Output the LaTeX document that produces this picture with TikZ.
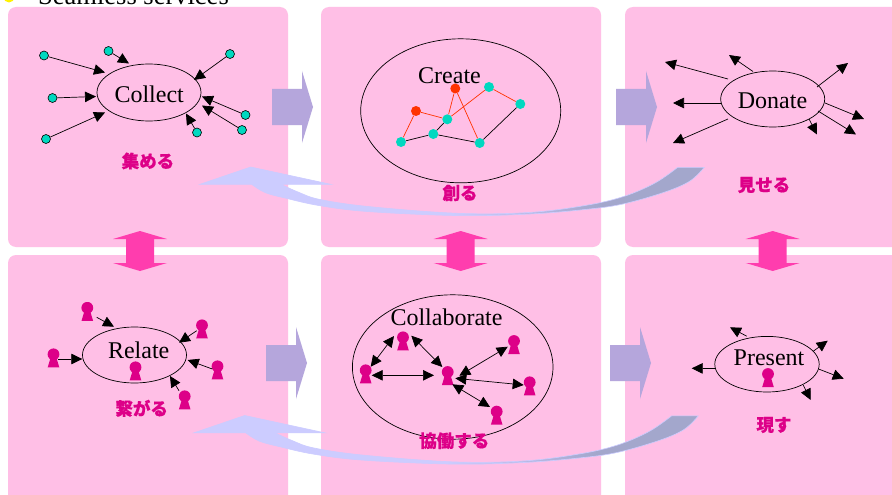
\documentclass[tikz,border=0pt]{standalone}
\usepackage{fontspec}
\setmainfont{Liberation Serif}
\newfontfamily\cjk[BoldFeatures={FakeBold=0.5}]{Noto Sans CJK JP}
\usetikzlibrary{shapes.geometric,arrows.meta,calc}
\definecolor{panelpink}{HTML}{FFBFE6}
\definecolor{flowviolet}{HTML}{B5A6DC}
\definecolor{hotpink}{HTML}{FF3DAE}
\definecolor{magentaink}{HTML}{DD0088}
\definecolor{teal}{HTML}{00D8C0}
\definecolor{redorange}{HTML}{FF3300}
\definecolor{curvelight}{HTML}{CCCCFF}
\definecolor{curvedark}{HTML}{A3A7CC}
\pgfdeclarehorizontalshading{curveshade}{100bp}{color(0bp)=(curvelight); color(50bp)=(curvelight); color(65bp)=(curvedark); color(100bp)=(curvedark)}
\tikzset{
  x=1pt,y=-1pt,
  panel/.style={fill=panelpink,rounded corners=8pt},
  flow/.style={fill=flowviolet},
  updown/.style={fill=hotpink},
  ring/.style={ellipse,draw=black,line width=.7pt,inner sep=0pt,fill=none},
  title/.style={font=\fontsize{24}{26}\selectfont,anchor=base,inner sep=0pt},
  jp/.style={font=\cjk\bfseries\fontsize{17.5}{20}\selectfont,text=magentaink,inner sep=0pt},
  leaf/.style={circle,draw=black,line width=.6pt,fill=teal,minimum size=9pt,inner sep=0pt},
  dot/.style={circle,fill=teal,minimum size=10pt,inner sep=0pt},
  reddot/.style={circle,fill=redorange,minimum size=10pt,inner sep=0pt},
  person/.style={rectangle,inner sep=0pt,minimum width=12.4pt,minimum height=18.8pt,
    path picture={\fill[magentaink] (0pt,3.7pt) circle (5.9pt);
      \fill[magentaink] (-1.8pt,4pt)--(1.8pt,4pt)--(5.8pt,-9.4pt)--(-5.8pt,-9.4pt)--cycle;}},
  link/.style={draw=black,line width=.7pt,-{Triangle[length=11pt,width=10.5pt]}},
  both/.style={draw=black,line width=.7pt,{Triangle[length=11pt,width=10.5pt]}-{Triangle[length=11pt,width=10.5pt]}},
  edgeblack/.style={draw=black,line width=.7pt},
  edgered/.style={draw=redorange,line width=.7pt},
}
\begin{document}
\begin{tikzpicture}
\useasboundingbox (0,0) rectangle (892,495);
\clip (0,0) rectangle (892,495);
\fill[white] (0,0) rectangle (892,495);
% panels
\foreach \xa/\xb/\ya/\yb in {8/288/7/247,321/601/7/247,625/980/7/247,8/288/255/580,321/601/255/580,625/980/255/580}
  \fill[panel] (\xa,\ya) rectangle (\xb,\yb);
% heading
\node[circle,fill=yellow,minimum size=11pt,inner sep=0pt] (bullet) at (9,-3) {};
\node[font=\fontsize{26.5}{28}\selectfont,anchor=base west,inner sep=0pt] (heading) at (38,5) {Seamless services};
% flow arrows
\foreach \px/\py in {272/107,616/107,266/363,610/363}
  \fill[flow,shift={(\px,\py)}] (0,-18)--(30,-18)--(30,-36)--(41,0)--(30,36)--(30,18)--(0,18)--cycle;
% vertical double arrows
\foreach \px in {140,460.7,772.7}
  \fill[updown,shift={(\px,251)}] (0,-20)--(27,-12)--(14,-12)--(14,12)--(27,12)--(0,20)--(-27,12)--(-14,12)--(-14,-12)--(-27,-12)--cycle;
% curved return arrows
\foreach \px/\py in {0/0,-6/248.5}
  \shadedraw[shading=curveshade,draw=curvelight,line width=.6pt,shift={(\px,\py)}]
    (200,184.3)--(250.7,167)--(330.7,184.3)--
    plot[smooth,tension=.6] coordinates {(281,184.3)(298,192)(320,199.5)(370,206.7)(460,213.4)(530,212.4)(585,205.5)(623,196.7)(655,183)(677.7,167.3)}
    --
    plot[smooth,tension=.6] coordinates {(704.3,167.3)(690,181)(665,192)(623,204)(585,209.5)(530,214)(460,215.6)(370,211.7)(320,205.7)(285,198)(265,192.5)(251.7,184.3)}
    --cycle;
% COLLECT
\node[ring,minimum width=104pt,minimum height=57pt] (collect) at (149,92.5) {};
\node[title] (collectText) at (149.2,102.7) {Collect};
\node[jp] (collectJp) at (148,161) {集める};
\node[leaf] (l1) at (44,55.5) {};
\node[leaf] (l2) at (108.5,51) {};
\node[leaf] (l3) at (230,54) {};
\node[leaf] (l4) at (245.5,115) {};
\node[leaf] (l5) at (242,130) {};
\node[leaf] (l6) at (197,132.5) {};
\node[leaf] (l7) at (46,139) {};
\node[leaf] (l8) at (52.5,98) {};
\draw[link] (l1)--($(collect)+(-44,-20)$);
\draw[link] (l2)--($(collect)+(-20,-29)$);
\draw[link] (l3)--($(collect)+(45,-12.5)$);
\draw[link] (l4)--($(collect)+(53,4)$);
\draw[link] (l5)--($(collect)+(53,13)$);
\draw[link] (l6)--($(collect)+(37,21)$);
\draw[link] (l7)--($(collect)+(-44,20)$);
\draw[link] (l8)--($(collect)+(-53,4)$);
% CREATE
\node[ring,minimum width=200pt,minimum height=144pt] (create) at (460.7,110.8) {};
\node[title] (createText) at (449.5,83.3) {Create};
\node[jp] (createJp) at (460,193) {創る};
\node[reddot] (r1) at (416,111) {};
\node[reddot] (r2) at (455.3,88.5) {};
\node[dot] (a) at (401,142) {};
\node[dot] (b) at (433.3,134) {};
\node[dot] (c) at (447.3,119.3) {};
\node[dot] (d) at (479.7,143) {};
\node[dot] (e) at (489,87) {};
\node[dot] (f) at (520.3,104) {};
\draw[edgeblack] (a)--(b) (b)--(c) (b)--(d) (d)--(f);
\draw[edgered] (a)--(r1) (r1)--(c) (c)--(r2) (r2)--(d) (c)--(e) (e)--(f);
% DONATE
\node[ring,minimum width=104pt,minimum height=56pt] (donate) at (772.7,99) {};
\node[title] (donateText) at (772.5,108.3) {Donate};
\node[jp] (donateJp) at (764,185) {見せる};
\coordinate (d1) at (665,62);
\coordinate (d2) at (729,55);
\coordinate (d3) at (848,63);
\coordinate (d4) at (864,119);
\coordinate (d5) at (856,134.5);
\coordinate (d6) at (817,134.5);
\coordinate (d7) at (673,103);
\coordinate (d8) at (673,143);
\draw[link] ($(donate)+(-44.7,-20)$)--(d1);
\draw[link] ($(donate)+(-19.7,-27.5)$)--(d2);
\draw[link] ($(donate)+(44.3,-12)$)--(d3);
\draw[link] ($(donate)+(52.3,4)$)--(d4);
\draw[link] ($(donate)+(45.3,12)$)--(d5);
\draw[link] ($(donate)+(36.3,20)$)--(d6);
\draw[link] ($(donate)+(-52,4)$)--(d7);
\draw[link] ($(donate)+(-44.7,20)$)--(d8);
% RELATE
\node[ring,minimum width=104pt,minimum height=56pt] (relate) at (134.5,355) {};
\node[title] (relateText) at (138.7,358.3) {Relate};
\node[jp] (relateJp) at (141.7,408.3) {繋がる};
\node[person] (p1) at (87.3,311.5) {};
\node[person] (p2) at (202,329) {};
\node[person] (p3) at (217.5,370) {};
\node[person] (p4) at (184.7,400) {};
\node[person] (p5) at (53.5,358) {};
\node[person] (p6) at (135.5,371) {};
\draw[link] ($(p1)+(9.4,5.8)$)--($(relate)+(-20.5,-28.3)$);
\draw[link] ($(p2)+(-5.3,1.7)$)--($(relate)+(44.5,-12.3)$);
\draw[link] ($(p3)+(-5.2,-1)$)--($(relate)+(53.2,5)$);
\draw[link] ($(p4)+(-5.7,-9.3)$)--($(relate)+(35.5,21)$);
\draw[link] ($(p5)+(4.8,1)$)--($(relate)+(-52.2,4)$);
% COLLABORATE
\node[ring,minimum width=200.6pt,minimum height=144.4pt] (collab) at (452.7,367) {};
\node[title] (collabText) at (446.5,325) {Collaborate};
\node[jp] (collabJp) at (454.3,440.7) {協働する};
\node[person] (q1) at (403,341) {};
\node[person] (q2) at (365.7,374) {};
\node[person] (q3) at (447.7,375.7) {};
\node[person] (q4) at (514,344.7) {};
\node[person] (q5) at (529.7,386) {};
\node[person] (q6) at (496.7,415.3) {};
\draw[both] ($(q1)+(-9,-5)$)--($(q2)+(5,-7.3)$);
\draw[both] ($(q1)+(8.3,-5.3)$)--($(q3)+(-5.4,-8.7)$);
\draw[both] ($(q2)+(6,1.3)$)--($(q3)+(-13.7,-.4)$);
\draw[both] ($(q3)+(11.6,0)$)--($(q4)+(-6.3,2)$);
\draw[both] ($(q3)+(7.6,2.6)$)--($(q5)+(-6,-1)$);
\draw[both] ($(q3)+(4.6,8.6)$)--($(q6)+(-6.7,-8.3)$);
% PRESENT
\node[ring,minimum width=104.4pt,minimum height=55.6pt] (present) at (767,364.2) {};
\node[title] (presentText) at (769,365) {Present};
\node[jp] (presentJp) at (774,425) {現す};
\node[person] (pp) at (768,377.7) {};
\coordinate (t1) at (730,327.3);
\coordinate (t2) at (827.7,340.7);
\coordinate (t3) at (843.7,378.7);
\coordinate (t4) at (810.7,400);
\coordinate (t5) at (691.7,368.3);
\draw[link] ($(present)+(-20.3,-28)$)--(t1);
\draw[link] ($(present)+(46.3,-13)$)--(t2);
\draw[link] ($(present)+(52,5)$)--(t3);
\draw[link] ($(present)+(36.3,21)$)--(t4);
\draw[link] ($(present)+(-52,4.3)$)--(t5);
\end{tikzpicture}
\end{document}
